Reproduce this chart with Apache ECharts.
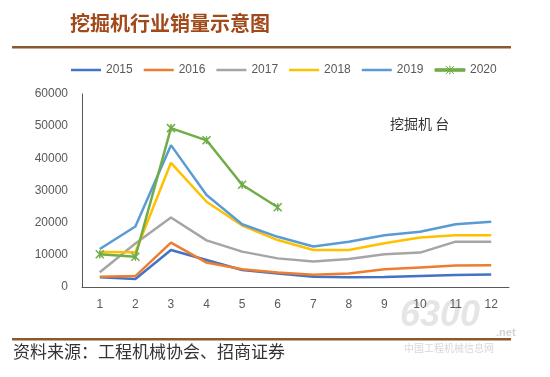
<!DOCTYPE html>
<html>
<head>
    <meta charset="utf-8">
    <script src="https://cdn.jsdelivr.net/npm/echarts@6/dist/echarts.min.js"></script>
    <style>
        body { margin: 0; background: #fff; }
    </style>
</head>
<body>
    <div id="main" style="width: 550px;height:377px;"></div>
    <script type="text/javascript">
        // 月份
        var months = ['1', '2', '3', '4', '5', '6', '7', '8', '9', '10', '11', '12'];
        var yTicks = [0, 10000, 20000, 30000, 40000, 50000, 60000];

        // 各年挖掘机销量（台）
        var s2015 = [3000, 2500, 11500, 8400, 5300, 4200, 3200, 3000, 3100, 3400, 3700, 3900];
        var s2016 = [3200, 3400, 13800, 7600, 5500, 4500, 3800, 4200, 5500, 6100, 6700, 6800];
        var s2017 = [4600, 13500, 21600, 14500, 11000, 8900, 7900, 8700, 10200, 10700, 14100, 14100];
        var s2018 = [10900, 10800, 38600, 26500, 19100, 14600, 11500, 11500, 13600, 15400, 16100, 16100];
        var s2019 = [11800, 18800, 44100, 28600, 19500, 15600, 12600, 14100, 16100, 17200, 19500, 20300];
        var s2020 = [10200, 9400, 49400, 45600, 31800, 24800];

        var fontCn = '"Noto Sans CJK SC", sans-serif';
        var fontNum = '"Liberation Sans", Arial, sans-serif';

        var lineIcon = 'path://M0,3.75L30,3.75L30,6.25L0,6.25Z';
        var starIcon = 'path://M0,3.75L30,3.75L30,6.25L0,6.25Z M11,1L19,9M19,1L11,9M15,0.5L15,9.5';

        function lineSeries(name, data, color) {
            return {
                name: name,
                type: 'line',
                data: data,
                symbol: 'none',
                lineStyle: {color: color, width: 2.5},
                itemStyle: {color: color},
                animation: false
            };
        }

        var series = [
            lineSeries('2015', s2015, '#4472c4'),
            lineSeries('2016', s2016, '#ed7d31'),
            lineSeries('2017', s2017, '#a5a5a5'),
            lineSeries('2018', s2018, '#ffc000'),
            lineSeries('2019', s2019, '#5b9bd5'),
            lineSeries('2020', s2020, '#70ad47')
        ];
        // 2020 带星号标记
        series[5].symbol = 'path://M0,0L10,10M10,0L0,10M5,0L5,10';
        series[5].symbolSize = 8;
        series[5].showSymbol = true;
        series[5].itemStyle = {color: 'rgba(0,0,0,0)', borderColor: '#70ad47', borderWidth: 1.5};

        var legendData = series.map(function (s, i) {
            var c = s.lineStyle.color;
            return {
                name: s.name,
                icon: i === 5 ? starIcon : lineIcon,
                itemStyle: {color: c, borderColor: c, borderWidth: i === 5 ? 1 : 0}
            };
        });

        var option = {
            backgroundColor: '#fff',
            animation: false,
            legend: {
                top: 59,
                left: 66,
                itemWidth: 30,
                itemHeight: 10,
                itemGap: 11,
                textStyle: {color: '#595959', fontSize: 12, fontFamily: fontNum},
                data: legendData
            },
            grid: {
                left: 82,
                right: 41,
                top: 94,
                bottom: 90
            },
            xAxis: {
                type: 'category',
                boundaryGap: true,
                data: months,
                axisLine: {lineStyle: {color: '#595959', width: 1}},
                axisTick: {inside: true, length: 4, lineStyle: {color: '#595959'}},
                axisLabel: {color: '#595959', fontSize: 12, margin: 12, fontFamily: fontNum}
            },
            yAxis: {
                type: 'value',
                min: yTicks[0],
                max: yTicks[yTicks.length - 1],
                interval: 10000,
                axisLine: {show: true, lineStyle: {color: '#595959', width: 1}},
                axisTick: {show: false},
                splitLine: {show: false},
                axisLabel: {
                    color: '#595959', fontSize: 12, margin: 14, fontFamily: fontNum,
                    formatter: function (v) { return String(v); }
                }
            },
            graphic: [
                {
                    type: 'text', left: 70, top: 13,
                    style: {text: '挖掘机行业销量示意图', fill: '#a0491b', fontSize: 20, fontWeight: 'bold', fontFamily: fontCn}
                },
                {
                    type: 'rect', shape: {x: 12, y: 46, width: 499, height: 2.5},
                    style: {fill: '#8a5a2e'}
                },
                {
                    type: 'text', left: 390, top: 117,
                    style: {text: '挖掘机 台', fill: '#333', fontSize: 14, fontFamily: fontCn}
                },
                {
                    type: 'text', left: 400, top: 298,
                    style: {text: '6300', fill: 'rgba(190,190,190,0.4)', fontSize: 36, fontStyle: 'italic', fontWeight: 'bold', fontFamily: fontNum}
                },
                {
                    type: 'text', left: 496, top: 327,
                    style: {text: '.net', fill: 'rgba(180,180,180,0.6)', fontSize: 11, fontWeight: 'bold', fontFamily: fontNum}
                },
                {
                    type: 'rect', shape: {x: 12, y: 338, width: 499, height: 2.5},
                    style: {fill: '#8a5a2e'}
                },
                {
                    type: 'text', left: 404, top: 343,
                    style: {text: '中国工程机械信息网', fill: 'rgba(200,200,200,0.7)', fontSize: 10, fontFamily: fontCn}
                },
                {
                    type: 'text', left: 13, top: 343,
                    style: {text: '资料来源：工程机械协会、招商证券', fill: '#333', fontSize: 17, fontFamily: fontCn}
                }
            ],
            series: series
        };

        var myChart = echarts.init(document.getElementById('main'));
        myChart.setOption(option);
    </script>
</body>
</html>
